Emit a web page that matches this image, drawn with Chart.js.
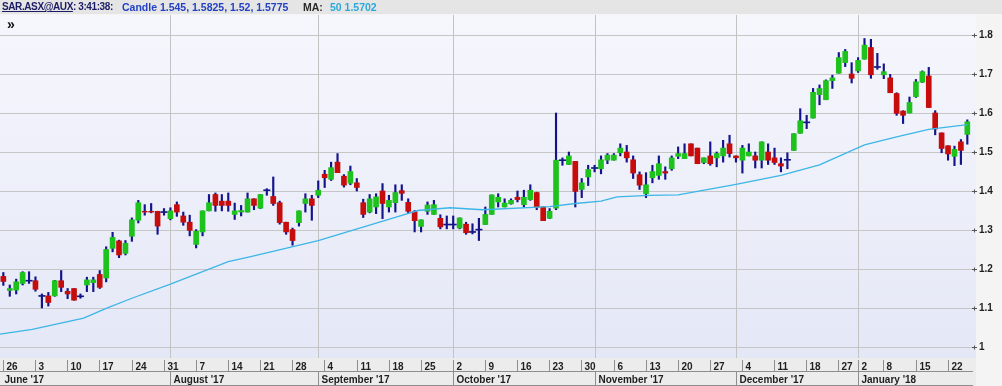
<!DOCTYPE html>
<html>
<head>
<meta charset="utf-8">
<script src="https://cdn.jsdelivr.net/npm/chart.js@4/dist/chart.umd.min.js"></script>
<style>
html,body{margin:0;padding:0;background:#f3f3f3;}
#wrap{position:relative;width:1002px;height:386px;overflow:hidden;}
canvas{display:block;}
.h{position:absolute;top:1px;font-family:"Liberation Sans",Arial,sans-serif;font-weight:bold;font-size:10.5px;line-height:12px;white-space:nowrap;}
#arrow{position:absolute;left:7px;top:16px;font-family:"Liberation Sans",Arial,sans-serif;font-weight:bold;font-size:14px;color:#111;}
</style>
</head>
<body>
<div id="wrap">
<canvas id="c" width="1002" height="386"></canvas>
<span class="h" style="left:2px;color:#1b1b66;font-size:10px;letter-spacing:-0.4px;"><u>SAR.ASX@AUX</u>: 3:41:38:</span>
<span class="h" style="left:122px;color:#2341c4;">Candle 1.545, 1.5825, 1.52, 1.5775</span>
<span class="h" style="left:303px;color:#2a2a2a;">MA:</span>
<span class="h" style="left:330px;color:#2aa9dc;">50 1.5702</span>
<div id="arrow">&raquo;</div>
</div>
<script>
// ---- data (trading-day index 0 = 26 June 2017 ... 150 = 25 Jan 2018) ----
const opens = [
1.181,1.145,1.146,1.163,1.170,1.170,1.131,1.131,1.131,1.170,
1.143,1.150,1.130,1.159,1.165,1.186,1.177,1.253,1.272,1.240,
1.284,1.325,1.348,1.348,1.348,1.346,1.329,1.365,1.336,1.320,
1.263,1.295,1.349,1.391,1.374,1.374,1.340,1.346,1.346,1.380,
1.356,1.402,1.386,1.370,1.320,1.301,1.319,1.368,1.380,1.389,
1.443,1.430,1.474,1.438,1.420,1.421,1.370,1.346,1.359,1.400,
1.359,1.370,1.401,1.371,1.347,1.309,1.348,1.340,1.330,1.314,
1.314,1.305,1.315,1.295,1.301,1.314,1.340,1.372,1.359,1.367,
1.384,1.365,1.378,1.396,1.359,1.330,1.356,1.479,1.468,1.476,
1.404,1.436,1.459,1.457,1.479,1.479,1.498,1.500,1.480,1.442,
1.393,1.434,1.440,1.450,1.457,1.489,1.483,1.521,1.510,1.473,
1.490,1.485,1.490,1.521,1.490,1.479,1.490,1.490,1.479,1.500,
1.485,1.470,1.480,1.504,1.548,1.576,1.587,1.647,1.634,1.683,
1.702,1.729,1.700,1.708,1.738,1.768,1.718,1.698,1.690,1.650,
1.605,1.600,1.642,1.679,1.695,1.600,1.549,1.516,1.489,1.526,
1.545];
const highs = [
1.191,1.159,1.174,1.193,1.193,1.180,1.136,1.140,1.171,1.196,
1.150,1.150,1.136,1.179,1.179,1.196,1.257,1.294,1.274,1.273,
1.331,1.376,1.365,1.368,1.348,1.355,1.357,1.372,1.346,1.338,
1.301,1.349,1.391,1.395,1.391,1.395,1.369,1.363,1.395,1.380,
1.391,1.406,1.436,1.374,1.320,1.305,1.349,1.393,1.389,1.426,
1.453,1.474,1.496,1.442,1.464,1.432,1.379,1.391,1.393,1.419,
1.389,1.416,1.416,1.380,1.350,1.326,1.372,1.376,1.339,1.336,
1.336,1.331,1.320,1.316,1.330,1.359,1.390,1.393,1.380,1.380,
1.400,1.402,1.416,1.397,1.359,1.355,1.600,1.485,1.500,1.476,
1.432,1.466,1.466,1.490,1.496,1.496,1.521,1.517,1.490,1.449,
1.447,1.466,1.490,1.462,1.490,1.513,1.521,1.521,1.510,1.485,
1.526,1.500,1.530,1.543,1.490,1.517,1.521,1.500,1.526,1.521,
1.510,1.485,1.498,1.547,1.611,1.594,1.663,1.672,1.685,1.697,
1.755,1.763,1.729,1.742,1.791,1.789,1.753,1.726,1.699,1.652,
1.606,1.641,1.686,1.708,1.717,1.606,1.549,1.516,1.515,1.532,
1.5825];
const lows = [
1.158,1.130,1.136,1.159,1.163,1.143,1.100,1.105,1.130,1.142,
1.124,1.120,1.125,1.142,1.142,1.150,1.167,1.244,1.229,1.236,
1.271,1.318,1.338,1.344,1.289,1.338,1.326,1.335,1.312,1.285,
1.254,1.285,1.349,1.348,1.349,1.348,1.327,1.336,1.346,1.352,
1.355,1.389,1.363,1.315,1.289,1.261,1.310,1.346,1.325,1.383,
1.409,1.427,1.447,1.410,1.416,1.400,1.332,1.344,1.342,1.329,
1.346,1.346,1.376,1.342,1.295,1.295,1.340,1.340,1.303,1.303,
1.303,1.303,1.289,1.290,1.273,1.314,1.340,1.359,1.359,1.366,
1.372,1.359,1.376,1.352,1.324,1.329,1.352,1.466,1.468,1.359,
1.383,1.414,1.449,1.444,1.470,1.479,1.490,1.474,1.432,1.404,
1.383,1.421,1.430,1.430,1.453,1.483,1.483,1.490,1.470,1.470,
1.466,1.462,1.474,1.487,1.474,1.446,1.490,1.459,1.459,1.468,
1.468,1.449,1.457,1.504,1.548,1.560,1.587,1.621,1.634,1.663,
1.702,1.719,1.677,1.704,1.738,1.689,1.712,1.688,1.652,1.594,
1.573,1.600,1.640,1.678,1.614,1.544,1.498,1.479,1.465,1.468,
1.52];
const closes = [
1.168,1.150,1.167,1.191,1.170,1.148,1.131,1.114,1.170,1.153,
1.136,1.120,1.130,1.172,1.172,1.153,1.250,1.281,1.236,1.266,
1.326,1.370,1.346,1.346,1.310,1.346,1.349,1.346,1.320,1.299,
1.297,1.349,1.370,1.363,1.363,1.363,1.349,1.350,1.380,1.363,
1.391,1.402,1.368,1.319,1.295,1.273,1.349,1.380,1.363,1.402,
1.434,1.460,1.447,1.415,1.450,1.409,1.340,1.380,1.385,1.368,
1.376,1.396,1.394,1.348,1.324,1.326,1.364,1.365,1.308,1.314,
1.314,1.331,1.293,1.295,1.301,1.340,1.390,1.384,1.369,1.376,
1.378,1.384,1.402,1.359,1.324,1.348,1.479,1.479,1.490,1.399,
1.421,1.455,1.459,1.480,1.492,1.492,1.510,1.485,1.446,1.415,
1.416,1.450,1.470,1.446,1.485,1.496,1.496,1.490,1.470,1.485,
1.470,1.496,1.510,1.496,1.485,1.510,1.500,1.479,1.526,1.479,
1.473,1.464,1.480,1.547,1.580,1.576,1.653,1.663,1.683,1.690,
1.742,1.758,1.689,1.735,1.774,1.698,1.718,1.706,1.652,1.599,
1.594,1.627,1.680,1.706,1.614,1.559,1.509,1.495,1.507,1.504,
1.5775];
// 50-period moving average, read at a few positions along the line
const maIndex  = [-0.52,4.5,12.5,16,20,26,35,38.5,49,61.5,64.5,69.5,74.5,85,89,93,95.5,100.5,105,114,121,127,134,139,144,150];
const maValues = [1.033,1.045,1.074,1.099,1.125,1.161,1.219,1.232,1.273,1.335,1.350,1.357,1.352,1.360,1.368,1.374,1.385,1.389,1.390,1.417,1.440,1.467,1.518,1.539,1.558,1.5702];
// axes
const yTicks = [1,1.1,1.2,1.3,1.4,1.5,1.6,1.7,1.8];
const weekTickIndex  = [0,5,10,15,20,25,30,35,40,45,50,55,60,65,70,75,80,85,90,95,100,105,110,115,120,125,130,133,137,142,147];
const weekTickLabels = ['26','3','10','17','24','31','7','14','21','28','4','11','18','25','2','9','16','23','30','6','13','20','27','4','11','18','27','2','8','15','22'];
const monthIndex  = [0,26,49,70,92,114,133];
const monthLabels = ["June '17","August '17","September '17","October '17","November '17","December '17","January '18"];

// ---- styles ----
const GREEN = '#1dc21d', RED = '#c70c0c', WICK = '#14148a', MA = '#3cb6e6';
const AXFONT = 'bold 10px "Liberation Sans", Arial, sans-serif';

const idx = opens.map((_, i) => i);
const wickData = idx.map(i => ({x: i, y: [lows[i], highs[i]]}));
const bodyData = idx.map(i => ({x: i, y: [opens[i], closes[i]]}));
const bodyColors = idx.map(i => closes[i] >= opens[i] ? GREEN : RED);
const dojiData = idx.filter(i => opens[i] === closes[i]).map(i => ({x: i, y: opens[i]}));
const maData = maIndex.map((v, k) => ({x: v, y: maValues[k]}));

const decor = {
  id: 'decor',
  beforeDraw(chart) {
    const {ctx, chartArea: a} = chart;
    ctx.save();
    ctx.fillStyle = '#f4f4f4';
    ctx.fillRect(0, 0, chart.width, chart.height);
    ctx.fillStyle = '#e5e5e5';
    ctx.fillRect(0, 0, chart.width, 14);
    const g = ctx.createLinearGradient(0, a.top, 0, a.bottom);
    g.addColorStop(0, '#f6f7fd');
    g.addColorStop(1, '#e4e7f6');
    ctx.fillStyle = g;
    ctx.fillRect(a.left, a.top, a.right - a.left, a.bottom - a.top);
    ctx.fillStyle = '#ececec';
    ctx.fillRect(0, a.bottom, a.right, chart.height - a.bottom);
    ctx.restore();
  },
  beforeDatasetsDraw(chart) {
    const {ctx, chartArea: a, scales: {x}} = chart;
    ctx.save();
    ctx.strokeStyle = '#c3c3c3';
    ctx.lineWidth = 1;
    monthIndex.forEach((m, k) => {
      if (k === 0) return;
      const px = Math.round(x.getPixelForValue(m)) + 0.5;
      ctx.beginPath(); ctx.moveTo(px, a.top); ctx.lineTo(px, a.bottom); ctx.stroke();
    });
    ctx.restore();
  },
  afterDraw(chart) {
    const {ctx, chartArea: a, scales: {x, y}} = chart;
    ctx.save();
    ctx.strokeStyle = '#555';
    ctx.lineWidth = 1;
    yTicks.forEach(v => {
      const py = Math.round(y.getPixelForValue(v)) + 0.5;
      ctx.beginPath();
      ctx.moveTo(a.right - 4, py); ctx.lineTo(a.right + 1, py);
      ctx.moveTo(a.right - 1.5, py - 2); ctx.lineTo(a.right - 1.5, py + 2);
      ctx.stroke();
    });
    const r = a.right - 3;
    ctx.strokeStyle = '#8e8e8e';
    ctx.beginPath();
    ctx.moveTo(0, 371.5); ctx.lineTo(r, 371.5);
    ctx.moveTo(0, 385.5); ctx.lineTo(r, 385.5);
    ctx.stroke();
    ctx.font = AXFONT;
    ctx.fillStyle = '#1e1e1e';
    ctx.textBaseline = 'alphabetic';
    ctx.textAlign = 'left';
    weekTickIndex.forEach((w, k) => {
      const px = Math.round(x.getPixelForValue(w) - 0.3) + 0.5;
      ctx.beginPath(); ctx.moveTo(px, 360); ctx.lineTo(px, 371); ctx.stroke();
      ctx.fillText(weekTickLabels[k], px + 3, 369.5);
    });
    monthIndex.forEach((m, k) => {
      let px = Math.round(x.getPixelForValue(m)) + 0.5;
      if (k === 0) { px = 1.5; }
      else { ctx.beginPath(); ctx.moveTo(px, 372); ctx.lineTo(px, 385); ctx.stroke(); }
      ctx.fillText(monthLabels[k], px + 3, 383);
    });
    ctx.restore();
  }
};

new Chart(document.getElementById('c'), {
  type: 'bar',
  data: {
    datasets: [
      {type: 'line', data: maData, borderColor: MA, borderWidth: 1.3, pointRadius: 0, tension: 0, order: 0},
      {type: 'line', data: dojiData, showLine: false, pointStyle: 'line', pointRadius: 3.5,
       pointBorderWidth: 1.6, pointBorderColor: WICK, pointBackgroundColor: WICK, order: 1},
      {data: bodyData, backgroundColor: bodyColors, barThickness: 5, grouped: false, borderWidth: 0, borderSkipped: false, order: 2},
      {data: wickData, backgroundColor: WICK, barThickness: 1.5, grouped: false, borderWidth: 0, borderSkipped: false, order: 3}
    ]
  },
  options: {
    responsive: false,
    devicePixelRatio: 1,
    animation: false,
    events: [],
    layout: {autoPadding: false, padding: {top: 15, bottom: 28, left: 0, right: 0}},
    plugins: {legend: {display: false}, tooltip: {enabled: false}},
    scales: {
      x: {type: 'linear', min: -0.52, max: 151.35, offset: false, display: false},
      y: {
        position: 'right',
        min: 0.9718, max: 1.8513,
        afterBuildTicks: s => { s.ticks = yTicks.map(v => ({value: v})); },
        afterFit: s => { s.width = 26; },
        border: {display: false},
        grid: {color: '#c6c6c6', lineWidth: 1, drawTicks: false},
        ticks: {padding: 3, color: '#1e1e1e', font: {family: '"Liberation Sans", Arial, sans-serif', size: 10, weight: 'bold'},
                callback: v => String(+(+v).toFixed(1))}
      }
    }
  },
  plugins: [decor]
});
</script>
</body>
</html>
